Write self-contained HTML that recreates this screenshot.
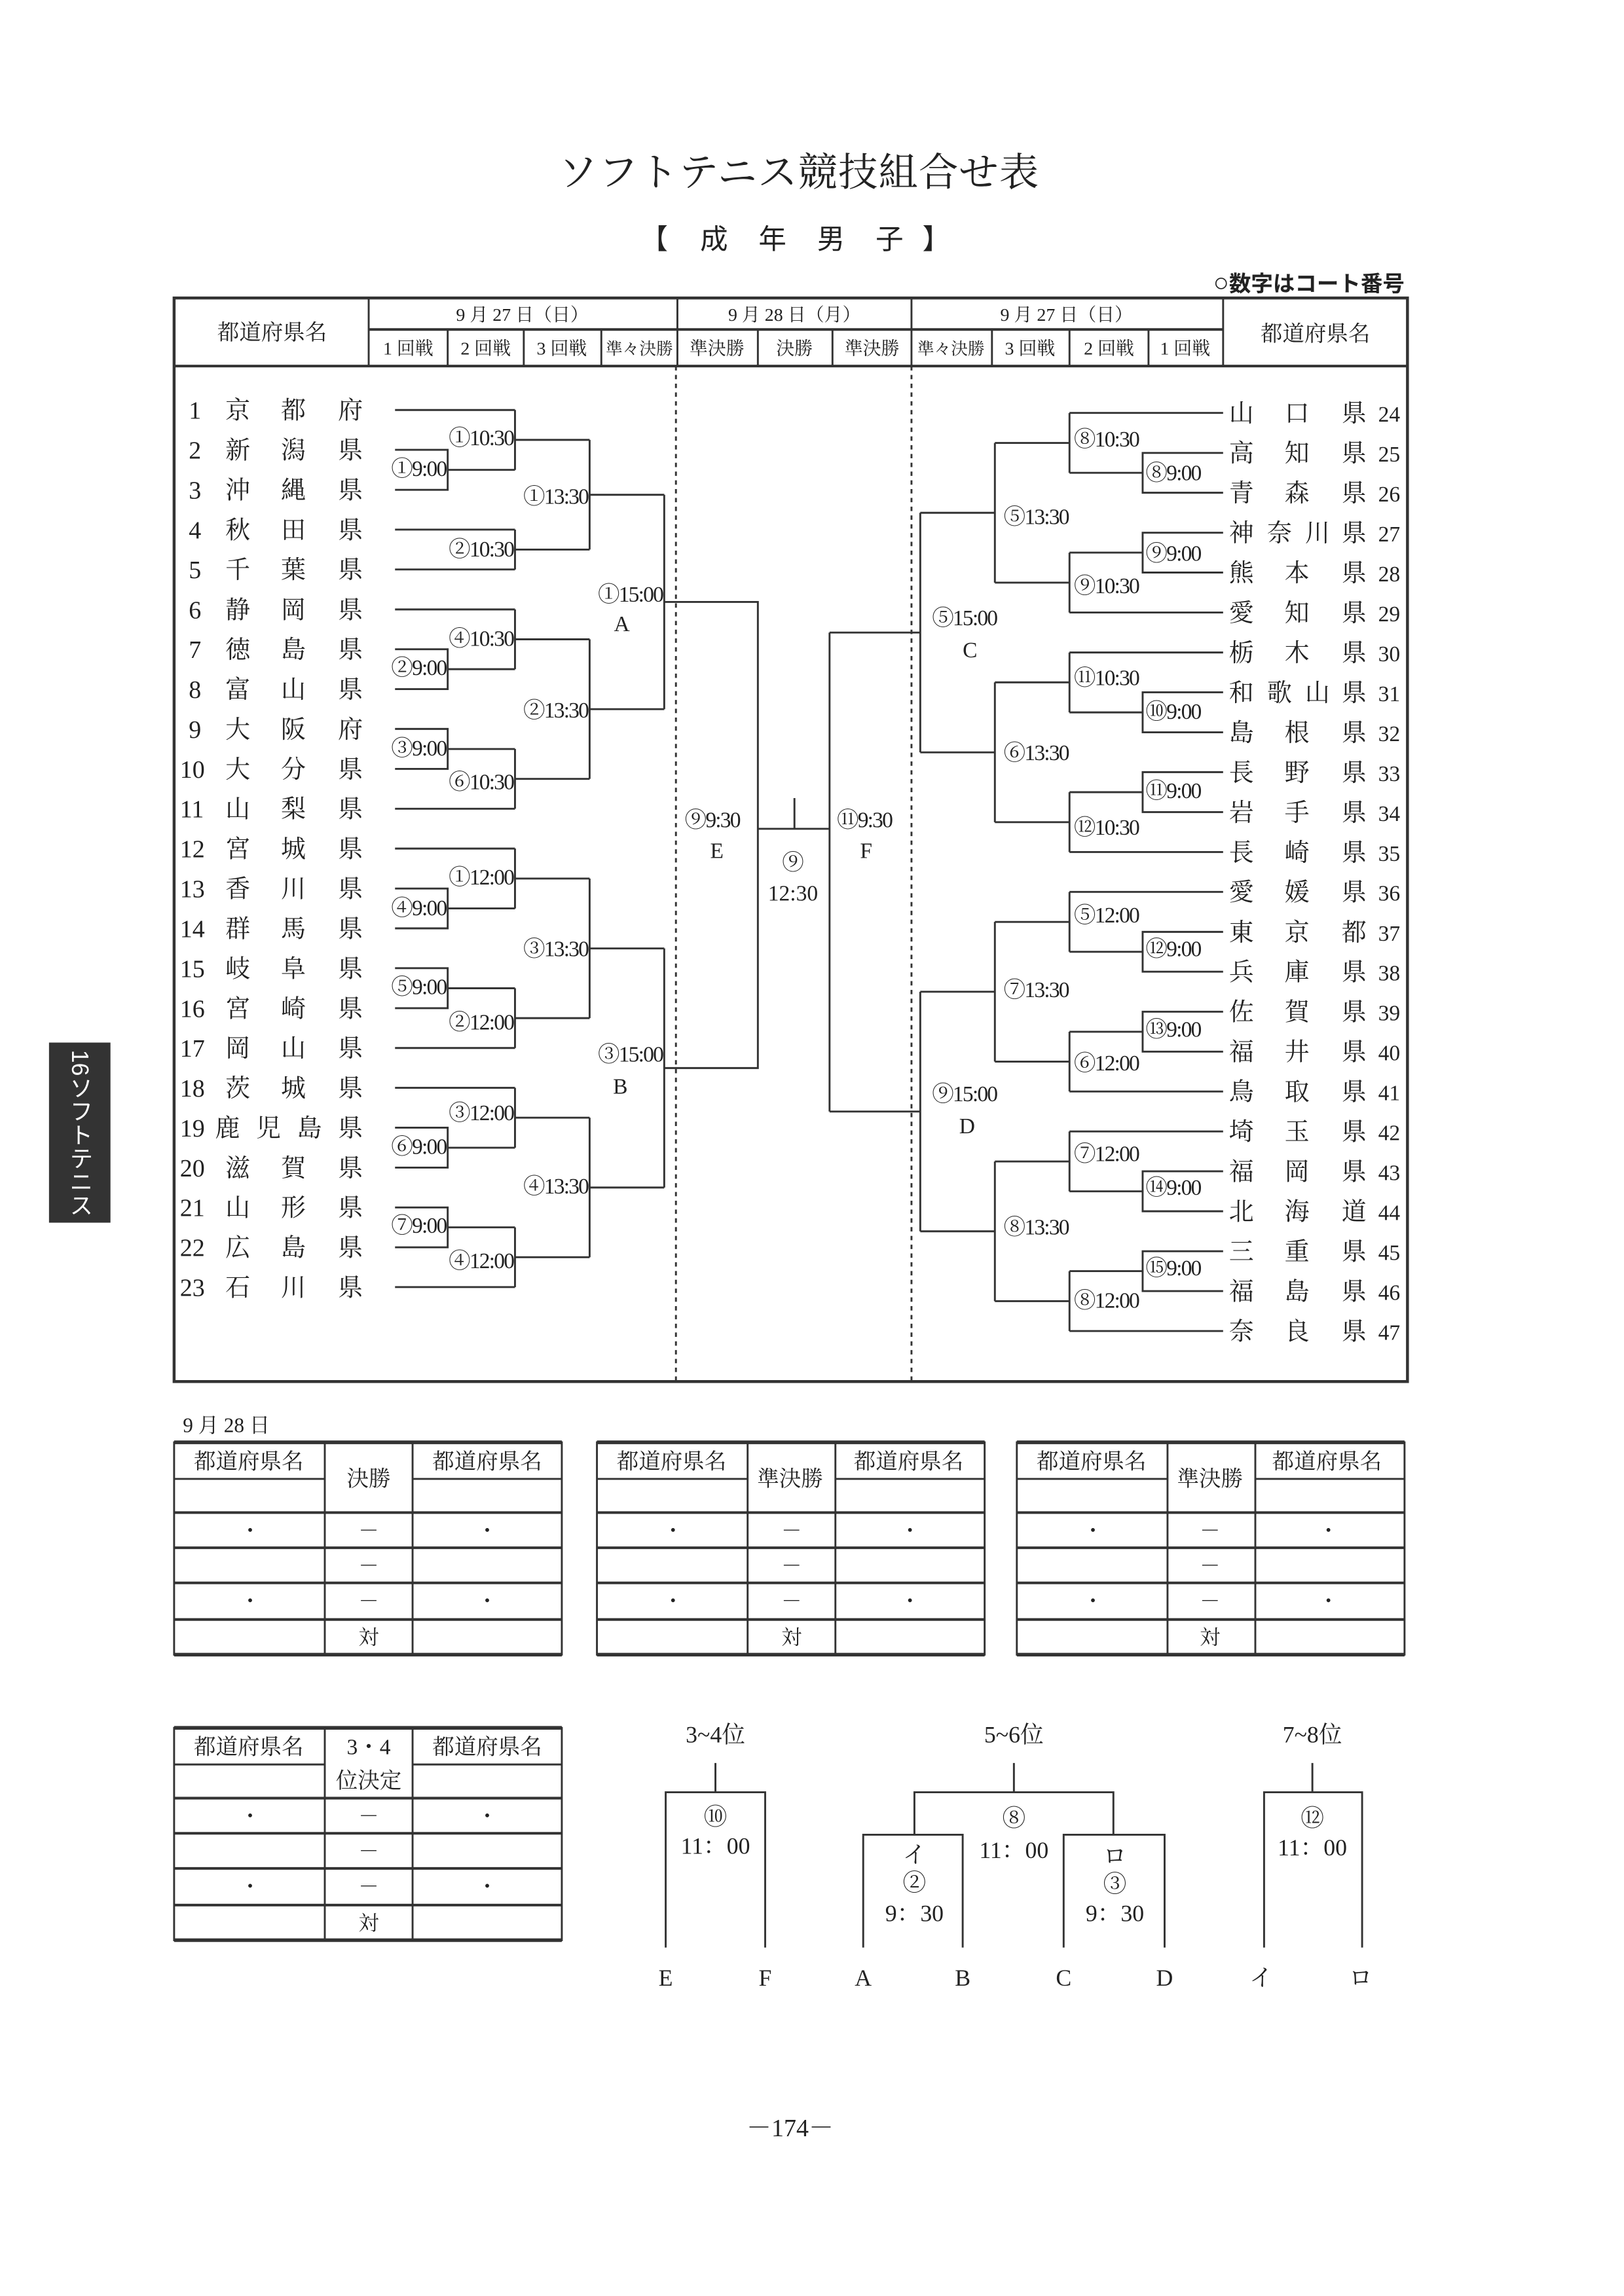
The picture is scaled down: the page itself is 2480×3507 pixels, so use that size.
<!DOCTYPE html>
<html><head><meta charset="utf-8"><style>
html,body{margin:0;padding:0;background:#fff;}
svg{display:block;}
text{font-family:"Liberation Serif","Noto Serif CJK SC",serif;fill:#222;}
.s{font-family:"Liberation Sans","Noto Sans CJK JP",sans-serif;}
</style></head><body>
<svg width="2480" height="3507" viewBox="0 0 1110 1568" preserveAspectRatio="none" xmlns="http://www.w3.org/2000/svg">
<g stroke="#333" fill="none" stroke-width="1.3">
<rect x="119" y="203.5" width="843" height="740" stroke-width="2"/>
<line x1="119" y1="250" x2="962" y2="250" stroke-width="1.8"/>
<line x1="252" y1="225" x2="836" y2="225" stroke-width="1.8"/>
<line x1="252" y1="203" x2="252" y2="250"/>
<line x1="836" y1="203" x2="836" y2="250"/>
<line x1="463" y1="203" x2="463" y2="250"/>
<line x1="623" y1="203" x2="623" y2="250"/>
<line x1="306" y1="225" x2="306" y2="250"/><line x1="358" y1="225" x2="358" y2="250"/><line x1="411" y1="225" x2="411" y2="250"/>
<line x1="518" y1="225" x2="518" y2="250"/><line x1="569" y1="225" x2="569" y2="250"/>
<line x1="678" y1="225" x2="678" y2="250"/><line x1="731" y1="225" x2="731" y2="250"/><line x1="785" y1="225" x2="785" y2="250"/>
<line x1="462" y1="250" x2="462" y2="943" stroke-dasharray="3,3"/>
<line x1="623" y1="250" x2="623" y2="943" stroke-dasharray="3,3"/>
<path d="M270 280H352 M270 361.7H352 M270 388.9H352 M270 416.2H352 M270 552.3H352 M270 579.5H352 M270 715.7H352 M270 742.9H352 M270 879H352"/>
<path d="M270 307.2H306V334.5H270 M306 320.9H352 M270 443.4H306V470.6H270 M306 457H352 M270 497.8H306V525.1H270 M306 511.5H352 M270 606.8H306V634H270 M306 620.4H352 M270 661.2H306V688.5H270 M306 674.9H352 M270 770.1H306V797.4H270 M306 783.8H352 M270 824.6H306V851.8H270 M306 838.2H352"/>
<path d="M352 280V320.9 M352 361.7V388.9 M352 416.2V457 M352 511.5V552.3 M352 579.5V620.4 M352 674.9V715.7 M352 742.9V783.8 M352 838.2V879"/>
<path d="M352 300.4H403 M352 375.3H403 M352 436.6H403 M352 531.9H403 M352 600H403 M352 695.3H403 M352 763.3H403 M352 858.6H403"/>
<path d="M403 300.4V375.3 M403 436.6V531.9 M403 600V695.3 M403 763.3V858.6"/>
<path d="M403 337.9H454 M403 484.3H454 M403 647.7H454 M403 811H454 M454 337.9V484.3 M454 647.7V811"/>
<path d="M454 411.1H518V729.4H454 M518 566H567 M543 545V566 M567 432V759.1"/>
<path d="M836 282H731 M836 418.3H731 M836 445.6H731 M836 581.9H731 M836 609.1H731 M836 745.4H731 M836 772.7H731 M836 909H731"/>
<path d="M836 309.3H781V336.5H836 M781 322.9H731 M836 363.8H781V391H836 M781 377.4H731 M836 472.8H781V500.1H836 M781 486.5H731 M836 527.3H781V554.6H836 M781 541H731 M836 636.4H781V663.6H836 M781 650H731 M836 690.9H781V718.2H836 M781 704.6H731 M836 799.9H781V827.2H836 M781 813.6H731 M836 854.5H781V881.7H836 M781 868.1H731"/>
<path d="M731 282V322.9 M731 377.4V418.3 M731 445.6V486.5 M731 541V581.9 M731 609.1V650 M731 704.6V745.4 M731 772.7V813.6 M731 868.1V909"/>
<path d="M731 302.5H680 M731 397.9H680 M731 466H680 M731 561.5H680 M731 629.6H680 M731 725H680 M731 793.2H680 M731 888.6H680"/>
<path d="M680 302.5V397.9 M680 466V561.5 M680 629.6V725 M680 793.2V888.6"/>
<path d="M680 350.2H629 M680 513.8H629 M680 677.3H629 M680 840.9H629 M629 350.2V513.8 M629 677.3V840.9"/>
<path d="M629 432H567 M629 759.1H567"/>
<g id="t1">
<rect x="119" y="985" width="265" height="145"/>
<line x1="119" y1="985" x2="384" y2="985" stroke-width="2.5"/>
<line x1="119" y1="1130" x2="384" y2="1130" stroke-width="2.5"/>
<line x1="119" y1="1010" x2="222" y2="1010"/><line x1="282" y1="1010" x2="384" y2="1010"/>
<line x1="119" y1="1033" x2="384" y2="1033" stroke-width="1.8"/>
<line x1="119" y1="1057" x2="384" y2="1057" stroke-width="1.8"/>
<line x1="119" y1="1081" x2="384" y2="1081" stroke-width="1.8"/>
<line x1="119" y1="1106" x2="384" y2="1106" stroke-width="1.8"/>
<line x1="222" y1="985" x2="222" y2="1130"/><line x1="282" y1="985" x2="282" y2="1130"/>
</g>
<use href="#t1" x="289"/>
<use href="#t1" x="576"/>
<use href="#t1" y="195"/>
<path d="M489 1204V1224 M455 1330V1224H523V1330"/>
<path d="M693 1204V1224 M625 1253V1224H761V1253 M590 1330V1253H658V1330 M727 1330V1253H796V1330"/>
<path d="M897 1204V1224 M864 1330V1224H931V1330"/>
</g>
<text x="546" y="127" font-size="27" text-anchor="middle" letter-spacing="0.5">ソフトテニス競技組合せ表</text>
<text class="s" y="170" font-size="19" text-anchor="middle"><tspan x="447">【</tspan><tspan x="488">成</tspan><tspan x="528">年</tspan><tspan x="568">男</tspan><tspan x="608">子</tspan><tspan x="640">】</tspan></text>
<text class="s" x="960" y="199" font-size="15" font-weight="bold" text-anchor="end"><tspan font-size="18" font-weight="normal">○</tspan>数字はコート番号</text>
<g font-size="15" text-anchor="middle">
<text x="186" y="232">都道府県名</text>
<text x="899" y="233">都道府県名</text>
</g>
<g font-size="12.5" text-anchor="middle">
<text x="357" y="219">9 月 27 日（日）</text>
<text x="543" y="219">9 月 28 日（月）</text>
<text x="729" y="219">9 月 27 日（日）</text>
<text x="279" y="242">1 回戦</text><text x="332" y="242">2 回戦</text><text x="384" y="242">3 回戦</text><text x="437" y="242" font-size="11.5">準々決勝</text>
<text x="490" y="242">準決勝</text><text x="543" y="242">決勝</text><text x="596" y="242">準決勝</text>
<text x="650" y="242" font-size="11.5">準々決勝</text><text x="704" y="242">3 回戦</text><text x="758" y="242">2 回戦</text><text x="810" y="242">1 回戦</text>
</g>
<g font-size="17">
<text y="286"><tspan x="129">1</tspan><tspan x="154">京</tspan><tspan x="192">都</tspan><tspan x="231">府</tspan></text>
<text y="313.2"><tspan x="129">2</tspan><tspan x="154">新</tspan><tspan x="192">潟</tspan><tspan x="231">県</tspan></text>
<text y="340.5"><tspan x="129">3</tspan><tspan x="154">沖</tspan><tspan x="192">縄</tspan><tspan x="231">県</tspan></text>
<text y="367.7"><tspan x="129">4</tspan><tspan x="154">秋</tspan><tspan x="192">田</tspan><tspan x="231">県</tspan></text>
<text y="394.9"><tspan x="129">5</tspan><tspan x="154">千</tspan><tspan x="192">葉</tspan><tspan x="231">県</tspan></text>
<text y="422.2"><tspan x="129">6</tspan><tspan x="154">静</tspan><tspan x="192">岡</tspan><tspan x="231">県</tspan></text>
<text y="449.4"><tspan x="129">7</tspan><tspan x="154">徳</tspan><tspan x="192">島</tspan><tspan x="231">県</tspan></text>
<text y="476.6"><tspan x="129">8</tspan><tspan x="154">富</tspan><tspan x="192">山</tspan><tspan x="231">県</tspan></text>
<text y="503.8"><tspan x="129">9</tspan><tspan x="154">大</tspan><tspan x="192">阪</tspan><tspan x="231">府</tspan></text>
<text y="531.1"><tspan x="123">10</tspan><tspan x="154">大</tspan><tspan x="192">分</tspan><tspan x="231">県</tspan></text>
<text y="558.3"><tspan x="123">11</tspan><tspan x="154">山</tspan><tspan x="192">梨</tspan><tspan x="231">県</tspan></text>
<text y="585.5"><tspan x="123">12</tspan><tspan x="154">宮</tspan><tspan x="192">城</tspan><tspan x="231">県</tspan></text>
<text y="612.8"><tspan x="123">13</tspan><tspan x="154">香</tspan><tspan x="192">川</tspan><tspan x="231">県</tspan></text>
<text y="640"><tspan x="123">14</tspan><tspan x="154">群</tspan><tspan x="192">馬</tspan><tspan x="231">県</tspan></text>
<text y="667.2"><tspan x="123">15</tspan><tspan x="154">岐</tspan><tspan x="192">阜</tspan><tspan x="231">県</tspan></text>
<text y="694.5"><tspan x="123">16</tspan><tspan x="154">宮</tspan><tspan x="192">崎</tspan><tspan x="231">県</tspan></text>
<text y="721.7"><tspan x="123">17</tspan><tspan x="154">岡</tspan><tspan x="192">山</tspan><tspan x="231">県</tspan></text>
<text y="748.9"><tspan x="123">18</tspan><tspan x="154">茨</tspan><tspan x="192">城</tspan><tspan x="231">県</tspan></text>
<text y="776.1"><tspan x="123">19</tspan><tspan x="147">鹿</tspan><tspan x="175">児</tspan><tspan x="203">島</tspan><tspan x="231">県</tspan></text>
<text y="803.4"><tspan x="123">20</tspan><tspan x="154">滋</tspan><tspan x="192">賀</tspan><tspan x="231">県</tspan></text>
<text y="830.6"><tspan x="123">21</tspan><tspan x="154">山</tspan><tspan x="192">形</tspan><tspan x="231">県</tspan></text>
<text y="857.8"><tspan x="123">22</tspan><tspan x="154">広</tspan><tspan x="192">島</tspan><tspan x="231">県</tspan></text>
<text y="885"><tspan x="123">23</tspan><tspan x="154">石</tspan><tspan x="192">川</tspan><tspan x="231">県</tspan></text>
</g>
<g font-size="17">
<text y="288"><tspan x="840">山</tspan><tspan x="878">口</tspan><tspan x="917">県</tspan><tspan x="942" font-size="15">24</tspan></text>
<text y="315.3"><tspan x="840">高</tspan><tspan x="878">知</tspan><tspan x="917">県</tspan><tspan x="942" font-size="15">25</tspan></text>
<text y="342.5"><tspan x="840">青</tspan><tspan x="878">森</tspan><tspan x="917">県</tspan><tspan x="942" font-size="15">26</tspan></text>
<text y="369.8"><tspan x="840">神</tspan><tspan x="866">奈</tspan><tspan x="892">川</tspan><tspan x="917">県</tspan><tspan x="942" font-size="15">27</tspan></text>
<text y="397"><tspan x="840">熊</tspan><tspan x="878">本</tspan><tspan x="917">県</tspan><tspan x="942" font-size="15">28</tspan></text>
<text y="424.3"><tspan x="840">愛</tspan><tspan x="878">知</tspan><tspan x="917">県</tspan><tspan x="942" font-size="15">29</tspan></text>
<text y="451.6"><tspan x="840">栃</tspan><tspan x="878">木</tspan><tspan x="917">県</tspan><tspan x="942" font-size="15">30</tspan></text>
<text y="478.8"><tspan x="840">和</tspan><tspan x="866">歌</tspan><tspan x="892">山</tspan><tspan x="917">県</tspan><tspan x="942" font-size="15">31</tspan></text>
<text y="506.1"><tspan x="840">島</tspan><tspan x="878">根</tspan><tspan x="917">県</tspan><tspan x="942" font-size="15">32</tspan></text>
<text y="533.3"><tspan x="840">長</tspan><tspan x="878">野</tspan><tspan x="917">県</tspan><tspan x="942" font-size="15">33</tspan></text>
<text y="560.6"><tspan x="840">岩</tspan><tspan x="878">手</tspan><tspan x="917">県</tspan><tspan x="942" font-size="15">34</tspan></text>
<text y="587.9"><tspan x="840">長</tspan><tspan x="878">崎</tspan><tspan x="917">県</tspan><tspan x="942" font-size="15">35</tspan></text>
<text y="615.1"><tspan x="840">愛</tspan><tspan x="878">媛</tspan><tspan x="917">県</tspan><tspan x="942" font-size="15">36</tspan></text>
<text y="642.4"><tspan x="840">東</tspan><tspan x="878">京</tspan><tspan x="917">都</tspan><tspan x="942" font-size="15">37</tspan></text>
<text y="669.6"><tspan x="840">兵</tspan><tspan x="878">庫</tspan><tspan x="917">県</tspan><tspan x="942" font-size="15">38</tspan></text>
<text y="696.9"><tspan x="840">佐</tspan><tspan x="878">賀</tspan><tspan x="917">県</tspan><tspan x="942" font-size="15">39</tspan></text>
<text y="724.2"><tspan x="840">福</tspan><tspan x="878">井</tspan><tspan x="917">県</tspan><tspan x="942" font-size="15">40</tspan></text>
<text y="751.4"><tspan x="840">鳥</tspan><tspan x="878">取</tspan><tspan x="917">県</tspan><tspan x="942" font-size="15">41</tspan></text>
<text y="778.7"><tspan x="840">埼</tspan><tspan x="878">玉</tspan><tspan x="917">県</tspan><tspan x="942" font-size="15">42</tspan></text>
<text y="805.9"><tspan x="840">福</tspan><tspan x="878">岡</tspan><tspan x="917">県</tspan><tspan x="942" font-size="15">43</tspan></text>
<text y="833.2"><tspan x="840">北</tspan><tspan x="878">海</tspan><tspan x="917">道</tspan><tspan x="942" font-size="15">44</tspan></text>
<text y="860.5"><tspan x="840">三</tspan><tspan x="878">重</tspan><tspan x="917">県</tspan><tspan x="942" font-size="15">45</tspan></text>
<text y="887.7"><tspan x="840">福</tspan><tspan x="878">島</tspan><tspan x="917">県</tspan><tspan x="942" font-size="15">46</tspan></text>
<text y="915"><tspan x="840">奈</tspan><tspan x="878">良</tspan><tspan x="917">県</tspan><tspan x="942" font-size="15">47</tspan></text>
</g>
<g font-size="15" text-anchor="end" letter-spacing="-0.8">
<text x="305" y="325">①9:00</text><text x="305" y="461">②9:00</text><text x="305" y="516">③9:00</text><text x="305" y="625">④9:00</text><text x="305" y="679">⑤9:00</text><text x="305" y="788">⑥9:00</text><text x="305" y="842">⑦9:00</text>
<text x="351" y="304">①10:30</text><text x="351" y="380">②10:30</text><text x="351" y="441">④10:30</text><text x="351" y="539">⑥10:30</text>
<text x="351" y="604">①12:00</text><text x="351" y="703">②12:00</text><text x="351" y="765">③12:00</text><text x="351" y="866">④12:00</text>
<text x="402" y="344">①13:30</text><text x="402" y="490">②13:30</text><text x="402" y="653">③13:30</text><text x="402" y="815">④13:30</text>
<text x="453" y="411">①15:00</text><text x="453" y="725">③15:00</text>
</g>
<g font-size="15" text-anchor="middle">
<text x="425" y="431">A</text><text x="424" y="747">B</text>
<text x="663" y="449">C</text><text x="661" y="774">D</text>
<text x="490" y="586">E</text><text x="592" y="586">F</text>
</g>
<g font-size="15" letter-spacing="-0.8">
<text x="783" y="328">⑧9:00</text><text x="783" y="383">⑨9:00</text><text x="783" y="491">⑩9:00</text><text x="783" y="545">⑪9:00</text><text x="783" y="653">⑫9:00</text><text x="783" y="708">⑬9:00</text><text x="783" y="816">⑭9:00</text><text x="783" y="871">⑮9:00</text>
<text x="734" y="305">⑧10:30</text><text x="734" y="405">⑨10:30</text><text x="734" y="468">⑪10:30</text><text x="734" y="570">⑫10:30</text>
<text x="734" y="630">⑤12:00</text><text x="734" y="731">⑥12:00</text><text x="734" y="793">⑦12:00</text><text x="734" y="893">⑧12:00</text>
<text x="686" y="358">⑤13:30</text><text x="686" y="519">⑥13:30</text><text x="686" y="681">⑦13:30</text><text x="686" y="843">⑧13:30</text>
<text x="637" y="427">⑤15:00</text><text x="637" y="752">⑨15:00</text>
<text x="468" y="565">⑨9:30</text><text x="572" y="565">⑪9:30</text>
</g>
<g font-size="15" text-anchor="middle">
<text x="542" y="594">⑨</text><text x="542" y="615">12:30</text>
</g>
<text x="125" y="978" font-size="14">9 月 28 日</text>
<g font-size="15" text-anchor="middle">
<text x="170" y="1003">都道府県名</text><text x="333" y="1003">都道府県名</text><text x="252" y="1015">決勝</text>
<text x="459" y="1003">都道府県名</text><text x="621" y="1003">都道府県名</text><text x="540" y="1015">準決勝</text>
<text x="746" y="1003">都道府県名</text><text x="907" y="1003">都道府県名</text><text x="827" y="1015">準決勝</text>
<text x="170" y="1198">都道府県名</text><text x="333" y="1198">都道府県名</text><text x="252" y="1198">3・4</text><text x="252" y="1221">位決定</text>
</g>
<g font-size="14" text-anchor="middle">
<text x="171" y="1050">・</text><text x="252" y="1050">－</text><text x="333" y="1050">・</text><text x="252" y="1074">－</text>
<text x="171" y="1098">・</text><text x="252" y="1098">－</text><text x="333" y="1098">・</text><text x="252" y="1123">対</text>
<text x="460" y="1050">・</text><text x="541" y="1050">－</text><text x="622" y="1050">・</text><text x="541" y="1074">－</text>
<text x="460" y="1098">・</text><text x="541" y="1098">－</text><text x="622" y="1098">・</text><text x="541" y="1123">対</text>
<text x="747" y="1050">・</text><text x="827" y="1050">－</text><text x="908" y="1050">・</text><text x="827" y="1074">－</text>
<text x="747" y="1098">・</text><text x="827" y="1098">－</text><text x="908" y="1098">・</text><text x="827" y="1123">対</text>
<text x="171" y="1245">・</text><text x="252" y="1245">－</text><text x="333" y="1245">・</text><text x="252" y="1269">－</text>
<text x="171" y="1293">・</text><text x="252" y="1293">－</text><text x="333" y="1293">・</text><text x="252" y="1318">対</text>
</g>
<g font-size="16" text-anchor="middle">
<text x="489" y="1190">3~4位</text><text x="693" y="1190">5~6位</text><text x="897" y="1190">7~8位</text>
<text x="489" y="1246">⑩</text><text x="489" y="1266">11：00</text>
<text x="693" y="1247">⑧</text><text x="693" y="1269">11：00</text>
<text x="625" y="1272">イ</text><text x="625" y="1291">②</text><text x="625" y="1312">9：30</text>
<text x="762" y="1273">ロ</text><text x="762" y="1292">③</text><text x="762" y="1312">9：30</text>
<text x="897" y="1247">⑫</text><text x="897" y="1267">11：00</text>
<text x="455" y="1356">E</text><text x="523" y="1356">F</text><text x="590" y="1356">A</text><text x="658" y="1356">B</text>
<text x="727" y="1356">C</text><text x="796" y="1356">D</text><text x="862" y="1356">イ</text><text x="930" y="1356">ロ</text>
</g>
<text x="540" y="1459" font-size="17" text-anchor="middle">－174－</text>
<rect x="33.5" y="712" width="42" height="123" fill="#333"/>
<text class="s" x="54.5" y="717" font-size="16" style="fill:#fff;writing-mode:vertical-rl;" text-anchor="start">16ソフトテニス</text>
</svg>
</body></html>
